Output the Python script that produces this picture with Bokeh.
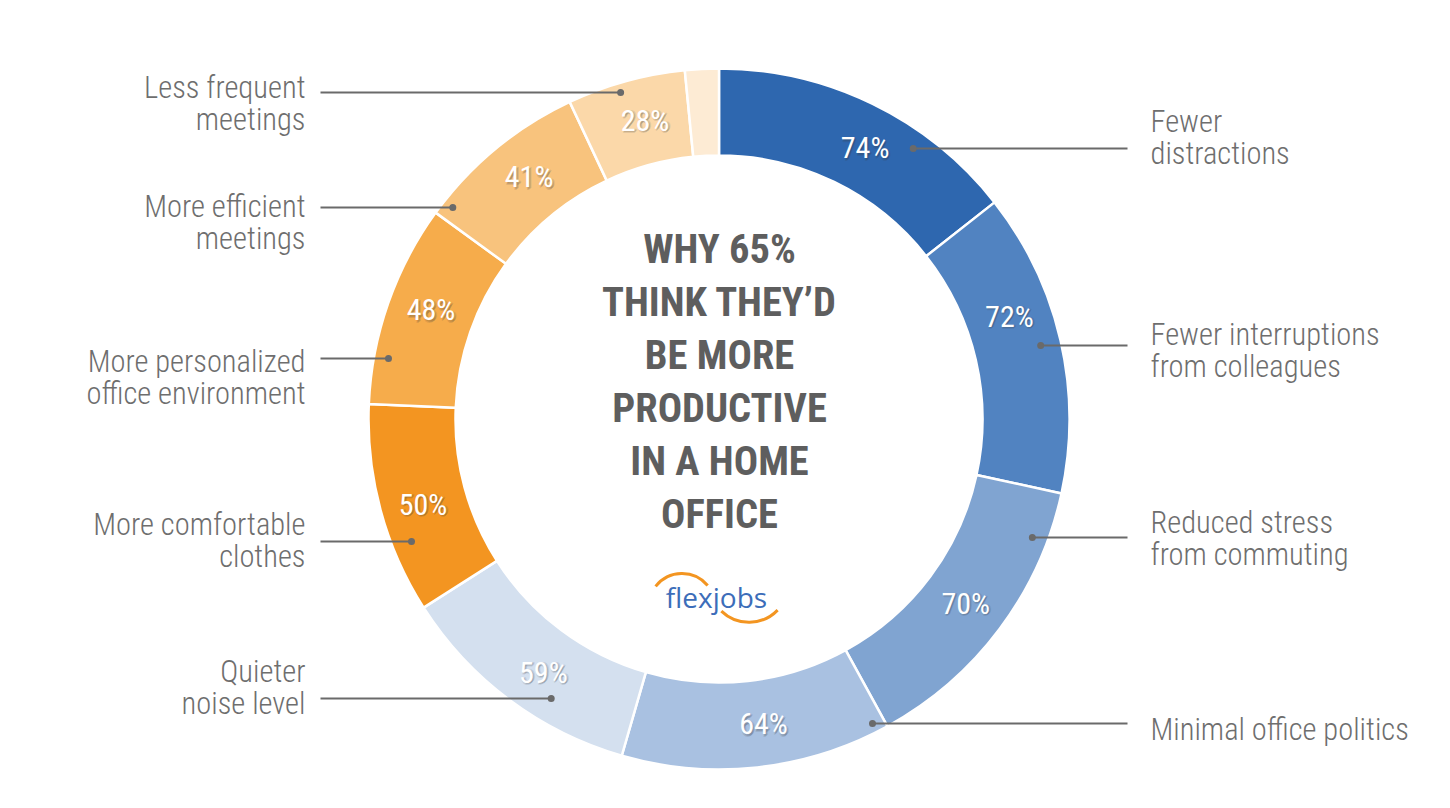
import numpy as np
from bokeh.plotting import figure
from bokeh.models import Range1d, ColumnDataSource
from bokeh.core.properties import value
from bokeh.embed import file_html
from bokeh.resources import INLINE

# ---------------- data ----------------
categories = [
    "Fewer\ndistractions",
    "Fewer interruptions\nfrom colleagues",
    "Reduced stress\nfrom commuting",
    "Minimal office politics",
    "Quieter\nnoise level",
    "More comfortable\nclothes",
    "More personalized\noffice environment",
    "More efficient\nmeetings",
    "Less frequent\nmeetings",
]
values = [74, 72, 70, 64, 59, 50, 48, 41, 28]
remainder = 8  # small unlabeled slice closing the ring
colors = ["#2E67AF", "#5183C1", "#80A4D1", "#A9C1E1", "#D4E0EF",
          "#F39521", "#F6AC4B", "#F8C37D", "#FBD8A9"]
remainder_color = "#FDEBD4"
title_lines = ["WHY 65%", "THINK THEY\u2019D", "BE MORE", "PRODUCTIVE", "IN A HOME", "OFFICE"]

# ---------------- layout (image pixel coordinates) ----------------
W, H = 1434, 792
def X(px):
    return px
def Y(py):
    return H - py

CX, CY = 718.5, 418.5
R_OUT, R_IN = 350.5, 263.5
side = ["R", "R", "R", "R", "L", "L", "L", "L", "L"]
label_first_y = [121, 334, 522, 729, 671, 524, 361, 206, 87]
leader_y = [148, 345, 537, 723, 698, 541, 358, 207, 92]
dot_r = [333, 330, 335, 341, 326, 331, 336, 340, 341]
pct_nudge_deg = [-2.4, 6.5, 0, 2, 2, 1, -1.5, -1.5, -1.5]
PCT_R = 308
RIGHT_LINE_END, RIGHT_TEXT_X = 1127, 1150
LEFT_LINE_END, LEFT_TEXT_X = 320, 305
LINE_STEP = 32

FONT = "Roboto Condensed, DejaVu Sans Condensed, sans-serif"
FONT_LIGHT = "Roboto Condensed Light, Roboto Condensed, sans-serif"
LABEL_COLOR = "#6E6E6E"
LINE_COLOR = "#6A6A6A"

p = figure(width=W, height=H, x_range=Range1d(0, W), y_range=Range1d(0, H),
           output_backend="svg", toolbar_location=None,
           x_axis_type=None, y_axis_type=None, min_border=0)
p.grid.visible = False
p.outline_line_color = None
p.background_fill_color = "white"
p.border_fill_color = "white"

# ---------------- donut ----------------
all_vals = values + [remainder]
all_cols = colors + [remainder_color]
total = float(sum(all_vals))
cum = np.concatenate([[0], np.cumsum(all_vals)])
ang_before = np.pi / 2 - cum[:-1] / total * 2 * np.pi
ang_after = np.pi / 2 - cum[1:] / total * 2 * np.pi
src = ColumnDataSource(dict(
    x=[X(CX)] * len(all_vals), y=[Y(CY)] * len(all_vals),
    start=list(ang_after), end=list(ang_before), color=all_cols,
))
p.annular_wedge(x="x", y="y", inner_radius=R_IN, outer_radius=R_OUT,
                start_angle="start", end_angle="end", direction="anticlock",
                fill_color="color", line_color="white", line_width=2.5, source=src)

# ---------------- percent labels ----------------
mids = (ang_before[:-1] + ang_after[:-1]) / 2 + np.radians(pct_nudge_deg)
px = [X(CX) + PCT_R * np.cos(a) for a in mids]
py = [Y(CY) + PCT_R * np.sin(a) for a in mids]
pct = [f"{v}%" for v in values]
for dx, dy, al in [(1.5, -1.5, 0.18), (0.5, -2.5, 0.12), (2.5, -0.5, 0.12)]:
    p.text(x=px, y=py, text=pct, text_color="#3a3a3a", text_alpha=al,
           text_font=value(FONT), text_font_size="30px",
           text_align="center", text_baseline="middle", x_offset=dx, y_offset=-dy)
p.text(x=px, y=py, text=pct, text_color="white",
       text_font=value(FONT), text_font_size="30px",
       text_align="center", text_baseline="middle")

# ---------------- leader lines & dots ----------------
for i, cat in enumerate(categories):
    ly = leader_y[i]
    dyy = CY - ly
    dxx = np.sqrt(max(dot_r[i] ** 2 - dyy ** 2, 0))
    if side[i] == "R":
        dot_x = CX + dxx
        end_x = RIGHT_LINE_END
        tx, align = RIGHT_TEXT_X, "left"
    else:
        dot_x = CX - dxx
        end_x = LEFT_LINE_END
        tx, align = LEFT_TEXT_X, "right"
    p.line([X(dot_x), X(end_x)], [Y(ly), Y(ly)], line_color=LINE_COLOR, line_width=2)
    p.scatter([X(dot_x)], [Y(ly)], size=7, fill_color=LINE_COLOR, line_color=None)
    lines = cat.split("\n")
    p.text(x=[X(tx)] * len(lines),
           y=[Y(label_first_y[i] + k * LINE_STEP) for k in range(len(lines))],
           text=lines, text_color=LABEL_COLOR, text_font=value(FONT_LIGHT),
           text_font_size="30.5px", text_align=align, text_baseline="middle")

# ---------------- centre title ----------------
p.text(x=[X(719)] * len(title_lines),
       y=[Y(248 + 53 * k) for k in range(len(title_lines))],
       text=title_lines, text_color="#5E5E5E", text_font=value(FONT),
       text_font_style="bold", text_font_size="40.5px",
       text_align="center", text_baseline="middle")

# ---------------- flexjobs logo ----------------
p.arc(x=[X(681.5)], y=[Y(606.5)], radius=33.5,
      start_angle=np.radians(40), end_angle=np.radians(142),
      line_color="#F39521", line_width=3)
p.arc(x=[X(748.5)], y=[Y(582)], radius=39.8,
      start_angle=np.radians(226), end_angle=np.radians(316),
      line_color="#F39521", line_width=3)
p.text(x=[X(716)], y=[Y(596)], text=["flexjobs"], text_color="#3C6DB9",
       text_font=value("Open Sans"), text_font_size="28px",
       text_align="center", text_baseline="middle")

open("out.html", "w").write(file_html(p, INLINE))
